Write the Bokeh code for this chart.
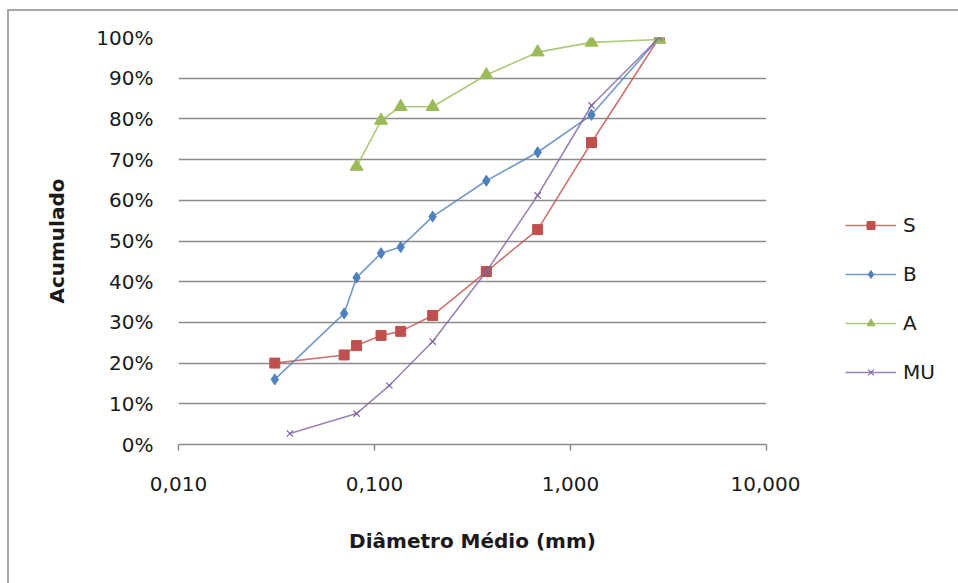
from bokeh.plotting import figure
from bokeh.layouts import row
from bokeh.models import (Range1d, FixedTicker, NumeralTickFormatter, Legend, LegendItem,
                          InlineStyleSheet)
from bokeh.embed import file_html
from bokeh.resources import INLINE

# Data (diameter in mm, cumulative fraction)
x_main = [0.031, 0.070, 0.081, 0.108, 0.136, 0.198, 0.372, 0.68, 1.28, 2.84]
s_vals = [0.200, 0.220, 0.243, 0.268, 0.278, 0.317, 0.425, 0.528, 0.742, 1.000]
b_vals = [0.160, 0.322, 0.410, 0.470, 0.485, 0.560, 0.648, 0.718, 0.810, 1.000]
x_a = [0.081, 0.108, 0.136, 0.198, 0.372, 0.68, 1.28, 2.84]
a_vals = [0.683, 0.796, 0.830, 0.830, 0.908, 0.964, 0.988, 0.995]
x_mu = [0.037, 0.081, 0.119, 0.198, 0.372, 0.68, 1.28, 2.84]
mu_vals = [0.027, 0.076, 0.145, 0.253, 0.425, 0.612, 0.833, 1.000]

x_ticks = [0.01, 0.1, 1, 10]
x_tick_labels = ["0,010", "0,100", "1,000", "10,000"]
y_ticks = [0.0, 0.1, 0.2, 0.3, 0.4, 0.5, 0.6, 0.7, 0.8, 0.9, 1.0]

FONT = "DejaVu Sans"
TXT = "#1a1a1a"

MAIN_W = 800
p = figure(width=MAIN_W, height=583, x_axis_type="log", output_backend="svg",
           toolbar_location=None, x_range=Range1d(0.01, 10), y_range=Range1d(0, 1),
           min_border_left=178, min_border_right=MAIN_W - 766, min_border_top=37,
           min_border_bottom=139)
p.outline_line_color = None
p.background_fill_color = "white"
p.border_fill_color = "white"

# grid
p.xgrid.grid_line_color = None
p.ygrid.grid_line_color = "#8c8c8c"
p.ygrid.grid_line_width = 1.5
p.ygrid.ticker = FixedTicker(ticks=y_ticks)

# axes
p.xaxis.ticker = FixedTicker(ticks=x_ticks)
p.xaxis.major_label_overrides = {t: l for t, l in zip(x_ticks, x_tick_labels)}
p.xaxis.axis_line_color = "#8c8c8c"
p.xaxis.axis_line_width = 1.5
p.xaxis.major_tick_line_color = "#8c8c8c"
p.xaxis.major_tick_line_width = 1.5
p.xaxis.major_tick_in = 0
p.xaxis.major_tick_out = 6
p.xaxis.minor_tick_line_color = None
p.xaxis.major_label_standoff = 26
p.xaxis.axis_label = "Diâmetro Médio (mm)"
p.xaxis.axis_label_standoff = 35

p.yaxis.ticker = FixedTicker(ticks=y_ticks)
p.yaxis.formatter = NumeralTickFormatter(format="0%")
p.yaxis.axis_line_color = None
p.yaxis.major_tick_line_color = None
p.yaxis.minor_tick_line_color = None
p.yaxis.major_label_standoff = 19
p.yaxis.axis_label = "Acumulado"
p.yaxis.axis_label_standoff = 24

for ax in (p.xaxis, p.yaxis):
    ax.major_label_text_font = FONT
    ax.major_label_text_font_size = "20px"
    ax.major_label_text_color = TXT
    ax.axis_label_text_font = FONT
    ax.axis_label_text_font_size = "20px"
    ax.axis_label_text_font_style = "bold"
    ax.axis_label_text_color = TXT

series = [
    ("S", x_main, s_vals, "#C0504D", "square", 10),
    ("B", x_main, b_vals, "#4F81BD", "diamond", 11),
    ("A", x_a, a_vals, "#9BBB59", "triangle", 13),
    ("MU", x_mu, mu_vals, "#8064A2", "x", 9),
]

# legend figure (to the right of the main chart); its ranges keep the
# duplicated series out of view so only the legend is visible
LEG_W = 958 - MAIN_W
q = figure(width=LEG_W, height=583, output_backend="svg", toolbar_location=None,
           x_range=Range1d(100, 101), y_range=Range1d(100, 101),
           min_border_left=0, min_border_right=0, min_border_top=0, min_border_bottom=0)
q.axis.visible = False
q.grid.visible = False
q.outline_line_color = None
q.background_fill_color = "white"
q.border_fill_color = "white"

items = []
for name, xs, ys, color, marker, size in series:
    p.line(xs, ys, line_color=color, line_width=1.6, line_alpha=0.8)
    if marker == "x":
        p.scatter(xs, ys, marker=marker, size=size, line_color=color, line_width=1.2)
        mk = q.scatter(xs, ys, marker=marker, size=size, line_color=color, line_width=1.2)
    else:
        p.scatter(xs, ys, marker=marker, size=size, fill_color=color, line_color=color)
        mk = q.scatter(xs, ys, marker=marker, size=size, fill_color=color, line_color=color)
    ln = q.line(xs, ys, line_color=color, line_width=1.6, line_alpha=0.8)
    items.append(LegendItem(label=name, renderers=[ln, mk]))

legend = Legend(items=items, location=(845 - MAIN_W, 60), orientation="vertical",
                glyph_width=51, glyph_height=20, spacing=25, label_standoff=7,
                label_text_font=FONT, label_text_font_size="20px", label_text_color=TXT,
                border_line_color=None, background_fill_alpha=0, padding=0, margin=0)
q.add_layout(legend, "center")

layout = row(p, q, spacing=0)
layout.stylesheets = [InlineStyleSheet(css=(
    ":host { position: relative; }"
    ":host::after { content: ''; position: absolute; left: 7px; top: 9px; "
    "width: 1000px; height: 1000px; border: 2px solid #a6a6a6; pointer-events: none; }"
))]

open("out.html", "w").write(file_html(layout, INLINE))
